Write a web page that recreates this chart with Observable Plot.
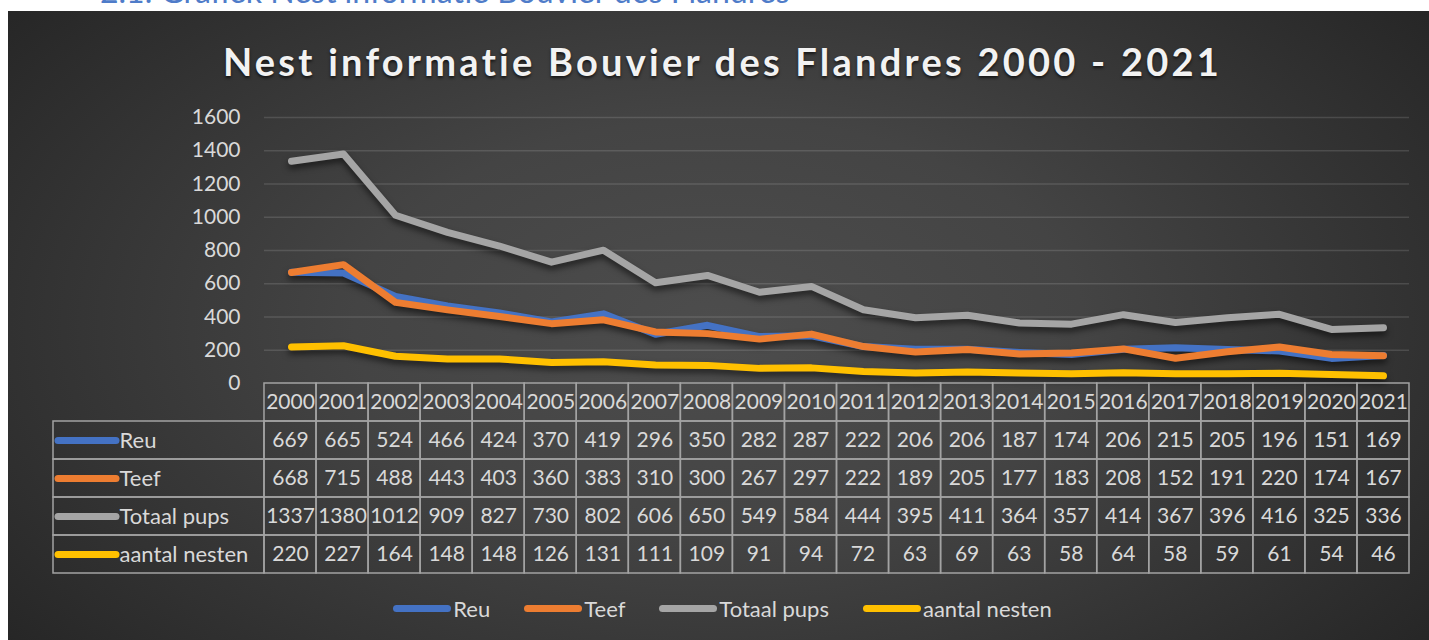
<!DOCTYPE html>
<html><head><meta charset="utf-8">
<script src="https://cdn.jsdelivr.net/npm/d3@7"></script>
<script src="https://cdn.jsdelivr.net/npm/@observablehq/plot@0.6"></script>
<style>
html,body{margin:0;padding:0;background:#fff;width:1429px;height:640px;overflow:hidden;position:relative;}
#heading{position:absolute;left:100px;top:-24px;font:400 32px/30px Lato, sans-serif;color:#4f7cc9;white-space:nowrap;}
#panel{position:absolute;left:8px;top:11px;width:1421px;height:629px;overflow:hidden;font-family:Lato, sans-serif;
  background:radial-gradient(ellipse 64% 82% at 50% 50%, #4d4d4d 0%, #444444 40%, #313131 78%, #262626 100%);}
#title{position:absolute;left:4px;width:100%;top:31px;text-align:center;font:700 38px/38px Lato, sans-serif;color:#f2f2f2;text-shadow:0 2px 3px rgba(0,0,0,.65);white-space:nowrap;}
#chart{position:absolute;left:0;top:0;}
#table{position:absolute;left:0;top:370px;}
#legend{position:absolute;left:4px;width:100%;top:583px;height:28px;display:flex;justify-content:center;align-items:center;gap:34px;font-size:22px;color:#d9d9d9;}
.item{display:flex;align-items:center;gap:2px;}
.sw{width:58px;height:7px;border-radius:4px;}
.linechart g[aria-label="line"]{filter:drop-shadow(0px 4px 3px rgba(0,0,0,0.55));}
</style>
</head><body>
<div id="heading">2.1. Grafiek Nest informatie Bouvier des Flandres</div>
<div id="panel">
  <div id="title">Nest informatie Bouvier des Flandres 2000 - 2021</div>
  <div id="chart"></div>
  <div id="table"></div>
  <div id="legend"></div>
</div>
<script>
const years = [2000,2001,2002,2003,2004,2005,2006,2007,2008,2009,2010,2011,2012,2013,2014,2015,2016,2017,2018,2019,2020,2021];
const seriesNames = ["Reu","Teef","Totaal pups","aantal nesten"];
const colors = ["#4472C4","#ED7D31","#A5A5A5","#FFC000"];
const reu    = [669,665,524,466,424,370,419,296,350,282,287,222,206,206,187,174,206,215,205,196,151,169];
const teef   = [668,715,488,443,403,360,383,310,300,267,297,222,189,205,177,183,208,152,191,220,174,167];
const totaal = [1337,1380,1012,909,827,730,802,606,650,549,584,444,395,411,364,357,414,367,396,416,325,336];
const nesten = [220,227,164,148,148,126,131,111,109,91,94,72,63,69,63,58,64,58,59,61,54,46];
const yTicks = [0,200,400,600,800,1000,1200,1400,1600];

const seriesValues = [reu, teef, totaal, nesten];
const long = [];
seriesNames.forEach((s, k) => years.forEach((y, i) => long.push({series: s, year: y, i, value: seriesValues[k][i]})));

const textColor = "#d9d9d9";
const W = 1421;
const plotStyle = {fontFamily: "Lato, sans-serif", fontSize: "21px", color: textColor, background: "transparent", overflow: "visible"};

const chart = Plot.plot({
  className: "linechart",
  width: W, height: 372,
  marginTop: 106, marginBottom: 0, marginLeft: 256, marginRight: 20,
  style: plotStyle,
  x: {type: "point", domain: years, padding: 0.5, axis: null},
  y: {domain: [0, 1600], axis: null},
  color: {domain: seriesNames, range: colors},
  marks: [
    Plot.ruleY(yTicks.filter(v => v > 0), {stroke: "#ffffff", strokeOpacity: 0.13, strokeWidth: 1.5}),
    Plot.axisY(yTicks, {tickSize: 0, tickPadding: 24, fontSize: 21, fill: textColor, label: null, tickFormat: d => String(d)}),
    Plot.line(long, {x: "year", y: "value", z: "series", stroke: "series", strokeWidth: 7, strokeLinecap: "round", strokeLinejoin: "round"})
  ]
});
document.getElementById("chart").append(chart);

// data table
const rows = ["header", ...seriesNames];
const labelCols = 211 / 52.05;
const cells = [];
years.forEach((y, i) => cells.push({row: "header", i, label: String(y)}));
long.forEach(d => cells.push({row: d.series, i: d.i, label: String(d.value)}));
const labelRows = seriesNames.map(s => ({row: s}));

const table = Plot.plot({
  width: W, height: 194,
  marginTop: 2, marginBottom: 2, marginLeft: 45, marginRight: 20,
  style: plotStyle,
  x: {domain: [-labelCols, years.length], axis: null},
  y: {type: "band", domain: rows, padding: 0, axis: null},
  color: {domain: seriesNames, range: colors},
  marks: [
    Plot.barX(cells, {x1: d => d.i, x2: d => d.i + 1, y: "row", fill: "none", stroke: "#a3a3a3", strokeWidth: 1.5}),
    Plot.barX(labelRows, {x1: -labelCols, x2: 0, y: "row", fill: "none", stroke: "#a3a3a3", strokeWidth: 1.5}),
    Plot.text(cells, {x: d => d.i + 0.5, y: "row", text: "label", fontSize: 21, fill: textColor}),
    Plot.ruleY(labelRows, {y: "row", x1: -labelCols, x2: 0, insetLeft: 5, insetRight: 148, stroke: "row", strokeWidth: 7, strokeLinecap: "round"}),
    Plot.text(labelRows, {x: -labelCols, y: "row", text: "row", dx: 66, textAnchor: "start", fontSize: 22, fill: textColor})
  ]
});
document.getElementById("table").append(table);

// legend
const legend = document.getElementById("legend");
seriesNames.forEach((s, k) => {
  const it = document.createElement("div"); it.className = "item";
  const sw = document.createElement("div"); sw.className = "sw"; sw.style.background = colors[k];
  const tx = document.createElement("span"); tx.textContent = s;
  it.append(sw, tx); legend.append(it);
});

// fit title letter spacing
const title = document.getElementById("title");
const span = document.createElement("span"); span.textContent = title.textContent; title.textContent = ""; title.append(span);
const w0 = span.getBoundingClientRect().width;
const n = span.textContent.length;
span.style.letterSpacing = ((1000 - w0) / n).toFixed(2) + "px";
</script>
</body></html>
